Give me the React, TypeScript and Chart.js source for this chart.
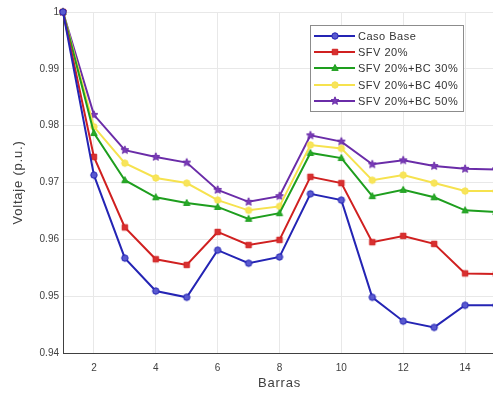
import React, { useEffect, useRef } from "react";
import { Chart, registerables } from "chart.js";

Chart.register(...registerables);

const barras = [1, 2, 3, 4, 5, 6, 7, 8, 9, 10, 11, 12, 13, 14, 15];
const xTicks = [2, 4, 6, 8, 10, 12, 14];

const casoBase = [1.0, 0.9713, 0.9567, 0.9509, 0.9498, 0.9581, 0.9558, 0.9569, 0.968, 0.9669, 0.9498, 0.9456, 0.9445, 0.9484, 0.9484];
const sfv20 = [1.0, 0.9745, 0.9621, 0.9565, 0.9555, 0.9613, 0.959, 0.9599, 0.971, 0.9699, 0.9595, 0.9606, 0.9592, 0.954, 0.9539];
const sfvBc30 = [1.0, 0.9787, 0.9704, 0.9674, 0.9664, 0.9657, 0.9636, 0.9646, 0.9752, 0.9743, 0.9676, 0.9687, 0.9674, 0.9651, 0.9648];
const sfvBc40 = [1.0, 0.9798, 0.9734, 0.9708, 0.9699, 0.9669, 0.9651, 0.9658, 0.9766, 0.976, 0.9704, 0.9713, 0.9699, 0.9685, 0.9685];
const sfvBc50 = [1.0, 0.9819, 0.9757, 0.9745, 0.9735, 0.9687, 0.9666, 0.9676, 0.9783, 0.9772, 0.9732, 0.9739, 0.9729, 0.9724, 0.9723];

const seriesNames = ["Caso Base", "SFV 20%", "SFV 20%+BC 30%", "SFV 20%+BC 40%", "SFV 20%+BC 50%"];
const seriesValues = [casoBase, sfv20, sfvBc30, sfvBc40, sfvBc50];
const seriesColors = ["#2424b4", "#d02020", "#1e9e1e", "#f6e24e", "#6a2ca8"];
const seriesFills = ["#5a5ad0", "#d83030", "#28aa28", "#f8e45a", "#7a3cb8"];
const seriesMarkers = ["circle", "rect", "triangle", "circle", "star"];

const xTitle = "Barras";
const yTitle = "Voltaje (p.u.)";

const FONT = "'Liberation Sans', Arial, sans-serif";

function drawMarker(ctx: CanvasRenderingContext2D, kind: string, x: number, y: number, r: number, fill: string, stroke: string) {
  ctx.save();
  ctx.fillStyle = fill;
  ctx.strokeStyle = stroke;
  ctx.lineWidth = 1;
  ctx.beginPath();
  if (kind === "circle") {
    ctx.arc(x, y, r, 0, Math.PI * 2);
  } else if (kind === "rect") {
    ctx.rect(x - r * 0.85, y - r * 0.85, r * 1.7, r * 1.7);
  } else if (kind === "triangle") {
    ctx.moveTo(x, y - r * 1.1);
    ctx.lineTo(x + r, y + r * 0.75);
    ctx.lineTo(x - r, y + r * 0.75);
    ctx.closePath();
  } else if (kind === "star") {
    const R = r * 1.3;
    const ri = R * 0.45;
    for (let i = 0; i < 10; i++) {
      const a = -Math.PI / 2 + (i * Math.PI) / 5;
      const rr = i % 2 === 0 ? R : ri;
      const px = x + rr * Math.cos(a);
      const py = y + rr * Math.sin(a);
      if (i === 0) ctx.moveTo(px, py);
      else ctx.lineTo(px, py);
    }
    ctx.closePath();
  }
  ctx.fill();
  ctx.stroke();
  ctx.restore();
}

function makeMarkerCanvas(kind: string, fill: string, stroke: string, r: number) {
  const size = Math.ceil(r * 3 + 4);
  const c = document.createElement("canvas");
  c.width = size;
  c.height = size;
  const ctx = c.getContext("2d")!;
  drawMarker(ctx, kind, size / 2, size / 2, r, fill, stroke);
  return c;
}

const overlayPlugin = {
  id: "overlay",
  afterDraw(chart: any) {
    const ctx: any = chart.ctx;
    const area = chart.chartArea;
    // axis titles
    ctx.save();
    ctx.fillStyle = "#404040";
    ctx.letterSpacing = "0.8px";
    ctx.font = `13px ${FONT}`;
    ctx.textAlign = "center";
    ctx.textBaseline = "middle";
    ctx.fillText(xTitle, (area.left + area.right) / 2, 383);
    ctx.translate(18, (area.top + area.bottom) / 2);
    ctx.rotate(-Math.PI / 2);
    ctx.fillText(yTitle, 0, 0);
    ctx.restore();

    // legend
    const bx = 310, by = 25, bw = 153, bh = 86;
    ctx.save();
    ctx.fillStyle = "#ffffff";
    ctx.fillRect(bx, by, bw, bh);
    ctx.strokeStyle = "#8c8c8c";
    ctx.lineWidth = 1;
    ctx.strokeRect(bx + 0.5, by + 0.5, bw, bh);
    const rowY = [36, 52, 68, 85, 101];
    seriesNames.forEach((name, i) => {
      const y = rowY[i];
      ctx.strokeStyle = seriesColors[i];
      ctx.lineWidth = 2;
      ctx.beginPath();
      ctx.moveTo(314, y);
      ctx.lineTo(355, y);
      ctx.stroke();
      drawMarker(ctx, seriesMarkers[i], 335, y, 3.2, seriesFills[i], seriesColors[i]);
      ctx.fillStyle = "#333333";
      ctx.letterSpacing = "0.5px";
      ctx.font = `11px ${FONT}`;
      ctx.textBaseline = "middle";
      ctx.textAlign = "left";
      ctx.fillText(name, 358, y + 0.5);
      ctx.letterSpacing = "0px";
    });
    ctx.restore();
  },
};

export default function App() {
  const ref = useRef<HTMLCanvasElement>(null);
  useEffect(() => {
    document.documentElement.style.overflow = "hidden";
    document.body.style.overflow = "hidden";
    const datasets = seriesValues.map((vals, i) => ({
      label: seriesNames[i],
      data: barras.map((b, j) => ({ x: b, y: vals[j] })),
      borderColor: seriesColors[i],
      backgroundColor: seriesFills[i],
      borderWidth: 2,
      pointStyle: makeMarkerCanvas(seriesMarkers[i], seriesFills[i], seriesColors[i], 3.2) as any,
      pointRadius: 4,
      tension: 0,
    }));
    const chart = new Chart(ref.current!, {
      type: "line",
      data: { datasets },
      options: {
        animation: false,
        responsive: false,
        clip: false as any,
        layout: { padding: { top: 12, right: 24, left: 0, bottom: 0 } },
        plugins: { legend: { display: false }, tooltip: { enabled: false } },
        scales: {
          x: {
            type: "linear",
            min: 1,
            max: 15,
            afterBuildTicks: (s: any) => {
              s.ticks = xTicks.map((v) => ({ value: v }));
            },
            afterFit: (s: any) => {
              s.height = 43;
            },
            grid: { color: "#e8e8e8", drawTicks: false },
            border: { display: true, color: "#404040", width: 1 },
            ticks: { padding: 9, color: "#404040", font: { family: FONT, size: 10 } },
          },
          y: {
            type: "linear",
            min: 0.94,
            max: 1,
            afterFit: (s: any) => {
              s.width = 63;
            },
            grid: { color: "#e8e8e8", drawTicks: false },
            border: { display: true, color: "#404040", width: 1 },
            ticks: {
              stepSize: 0.01,
              padding: 4,
              color: "#404040",
              font: { family: FONT, size: 10 },
              callback: (v: any) => String(parseFloat(Number(v).toFixed(2))),
            },
          },
        },
      },
      plugins: [overlayPlugin],
    });
    return () => chart.destroy();
  }, []);
  return (
    <div style={{ position: "fixed", left: 0, top: 0, width: 493, height: 396, overflow: "hidden", background: "#fff" }}>
      <canvas ref={ref} width={520} height={396} style={{ display: "block" }} />
    </div>
  );
}
